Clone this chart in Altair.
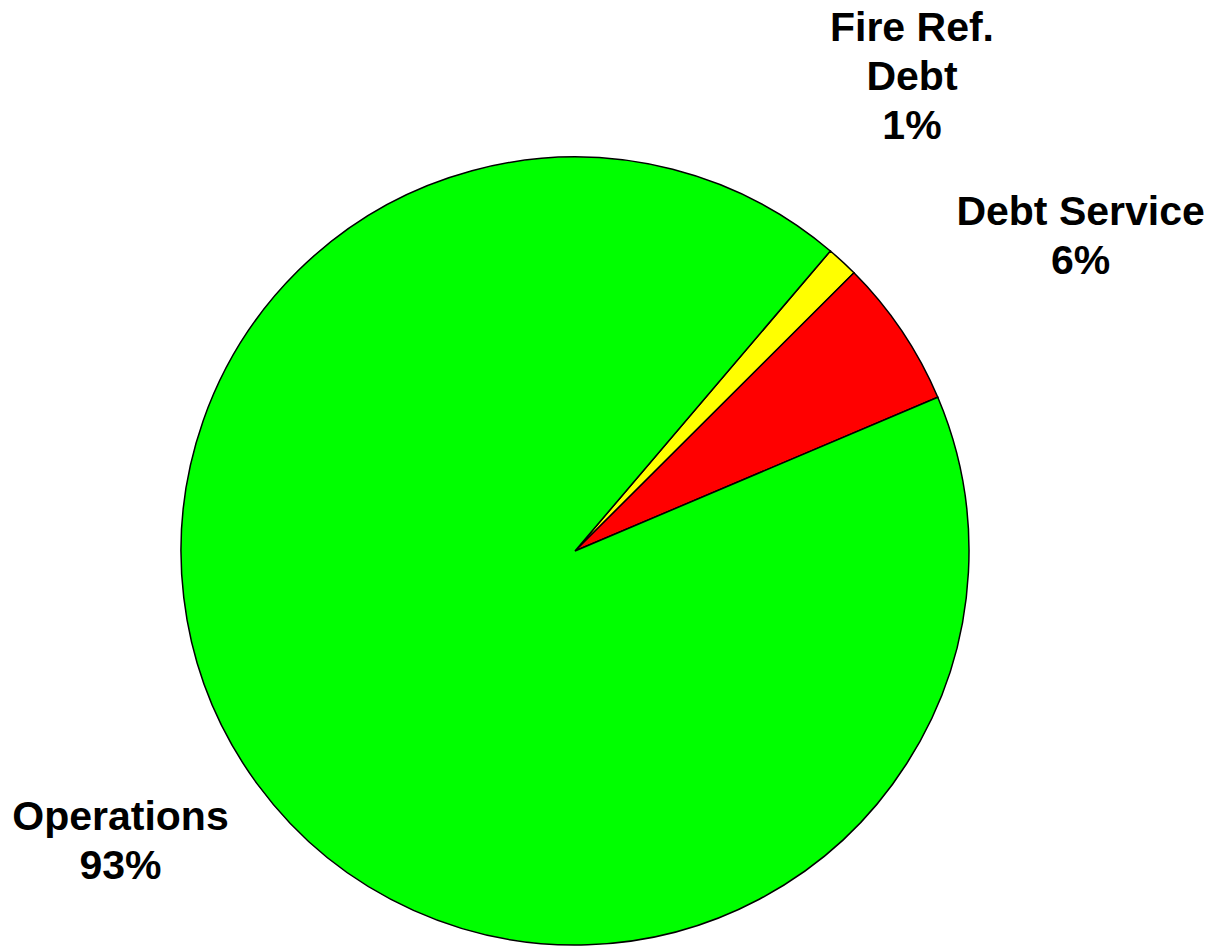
import altair as alt
import pandas as pd

# Data
categories = ["Fire Ref. Debt", "Debt Service", "Operations"]
values = [1.3, 6.1, 92.6]
label_texts = ["Fire Ref.\nDebt\n1%", "Debt Service\n6%", "Operations\n93%"]
slice_colors = ["#FFFF00", "#FF0000", "#00FF00"]
order_idx = [0, 1, 2]

df = pd.DataFrame({
    "category": categories,
    "value": values,
    "label": label_texts,
    "idx": order_idx,
})

START = 0.7051  # radians, rotation of the first slice
TWO_PI = 6.283185307
CX, CY = 567, 543
R = 394

theta_scale = alt.Scale(range=[START, START + TWO_PI])

pie = alt.Chart(df).mark_arc(radius=R, stroke="black", strokeWidth=1.5).encode(
    theta=alt.Theta("value:Q", stack=True, scale=theta_scale),
    order=alt.Order("idx:Q"),
    x=alt.value(CX),
    y=alt.value(CY),
    color=alt.Color("category:N",
                    scale=alt.Scale(domain=categories, range=slice_colors),
                    legend=None),
)

# label anchor angle = middle of each slice (cumulative sum computed before filtering)
label_base = alt.Chart(df).transform_window(
    cum="sum(value)", sort=[alt.SortField("idx")],
    frame=[None, 0],
).transform_calculate(
    mid="datum.cum - datum.value / 2"
)

# per-label placement (radius + small offsets), styling only
placements = {
    "Fire Ref. Debt": dict(radius=582, dx=-58, dy=-95),
    "Debt Service": dict(radius=595, dx=12, dy=-6),
    "Operations": dict(radius=539, dx=-20, dy=-52),
}

layers = [pie]
for cat, p in placements.items():
    layers.append(
        label_base.mark_text(
            font="Liberation Sans", fontSize=41, fontWeight="bold",
            color="black", align="center", baseline="middle",
            lineBreak="\n", lineHeight=49,
            radius=p["radius"], dx=p["dx"], dy=p["dy"],
        ).encode(
            theta=alt.Theta("mid:Q", scale=theta_scale),
            x=alt.value(CX),
            y=alt.value(CY),
            text="label:N",
        ).transform_filter(alt.datum.category == cat)
    )

chart = alt.layer(*layers).properties(
    width=1204, height=938, padding=0,
    autosize=alt.AutoSizeParams(type="none"),
).configure_view(stroke=None)

chart.save("out.html", embed_options={"renderer": "svg", "actions": False})
